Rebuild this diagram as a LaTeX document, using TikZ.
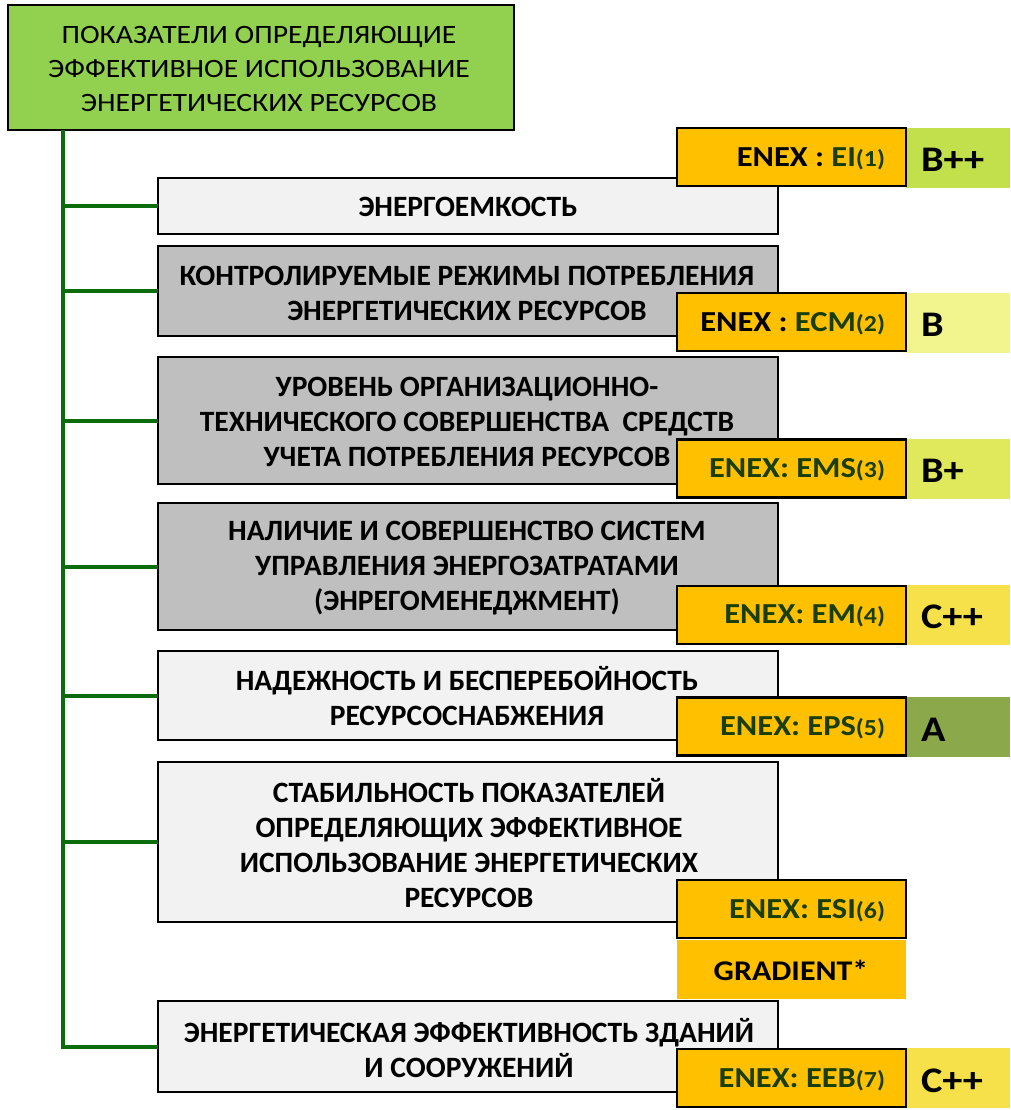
\documentclass[tikz,border=0pt]{standalone}
\usepackage{fontspec}
\setmainfont{Carlito}
\newfontfamily\widefont[FakeStretch=1.12]{Carlito}
\definecolor{titlegreen}{HTML}{92D050}
\definecolor{lightbox}{HTML}{F2F2F2}
\definecolor{graybox}{HTML}{BFBFBF}
\definecolor{enexorange}{HTML}{FFC000}
\definecolor{enexgreen}{RGB}{25,62,10}
\definecolor{trunkgreen}{RGB}{10,108,10}
\definecolor{gBpp}{HTML}{C2E04B}
\definecolor{gB}{HTML}{F2F58E}
\definecolor{gBp}{HTML}{E0E85C}
\definecolor{gCpp}{HTML}{F6E14B}
\definecolor{gA}{HTML}{8BA84B}
\newcommand{\ptxt}[1]{{\fontsize{23}{26}\selectfont #1}}
\begin{document}
\begin{tikzpicture}[x=1pt,y=-1pt,
  base/.style={inner sep=0pt,outer sep=0pt},
  titlebox/.style={base,draw=black,line width=2.5pt,fill=titlegreen,minimum width=506pt,minimum height=125pt},
  titletext/.style={base,align=center,font=\widefont\fontsize{26.5}{34}\selectfont},
  litebox/.style={base,draw=black,line width=2.5pt,fill=lightbox,minimum width=620pt},
  darkbox/.style={base,draw=black,line width=2.5pt,fill=graybox,minimum width=620pt},
  subtext/.style={base,align=center,font=\bfseries\fontsize{29.5}{35}\selectfont},
  enexbox/.style={base,draw=black,line width=2.5pt,fill=enexorange,minimum width=229pt,minimum height=58pt},
  enextext/.style={base,anchor=east,text=enexgreen,font=\widefont\bfseries\fontsize{29}{31}\selectfont},
  gradebox/.style={base,minimum width=104pt,minimum height=60pt},
  gradetext/.style={base,anchor=west,font=\widefont\bfseries\fontsize{36}{38}\selectfont},
  trunk/.style={draw=trunkgreen,line width=4pt}
]
\useasboundingbox (0,0) rectangle (1010,1110);

% title
\node[titlebox] (title) at (261,67.5) {};
\node[titletext] (titlet) at (259,69) {ПОКАЗАТЕЛИ ОПРЕДЕЛЯЮЩИЕ\\ЭФФЕКТИВНОЕ ИСПОЛЬЗОВАНИЕ\\ЭНЕРГЕТИЧЕСКИХ РЕСУРСОВ};

% sub boxes
\node[litebox,minimum height=56pt] (b1) at (468,206) {};
\node[darkbox,minimum height=90pt] (b2) at (468,291) {};
\node[darkbox,minimum height=127pt] (b3) at (468,420.5) {};
\node[darkbox,minimum height=127pt] (b4) at (468,566.5) {};
\node[litebox,minimum height=89pt] (b5) at (468,695.5) {};
\node[litebox,minimum height=160pt] (b6) at (468,842) {};
\node[litebox,minimum height=91pt] (b7) at (468,1046.5) {};

\node[subtext] (t1) at (468,207) {ЭНЕРГОЕМКОСТЬ};
\node[subtext] (t2) at (467,293) {КОНТРОЛИРУЕМЫЕ РЕЖИМЫ ПОТРЕБЛЕНИЯ\\ЭНЕРГЕТИЧЕСКИХ РЕСУРСОВ};
\node[subtext] (t3) at (467,422) {УРОВЕНЬ ОРГАНИЗАЦИОННО-\\ТЕХНИЧЕСКОГО СОВЕРШЕНСТВА\ \ СРЕДСТВ\\УЧЕТА ПОТРЕБЛЕНИЯ РЕСУРСОВ};
\node[subtext] (t4) at (467,568) {НАЛИЧИЕ И СОВЕРШЕНСТВО СИСТЕМ\\УПРАВЛЕНИЯ ЭНЕРГОЗАТРАТАМИ\\(ЭНРЕГОМЕНЕДЖМЕНТ)};
\node[subtext] (t5) at (467,696) {НАДЕЖНОСТЬ И БЕСПЕРЕБОЙНОСТЬ\\РЕСУРСОСНАБЖЕНИЯ};
\node[subtext] (t6) at (469,843) {СТАБИЛЬНОСТЬ ПОКАЗАТЕЛЕЙ\\ОПРЕДЕЛЯЮЩИХ ЭФФЕКТИВНОЕ\\ИСПОЛЬЗОВАНИЕ ЭНЕРГЕТИЧЕСКИХ\\РЕСУРСОВ};
\node[subtext] (t7) at (469,1048) {ЭНЕРГЕТИЧЕСКАЯ ЭФФЕКТИВНОСТЬ ЗДАНИЙ\\И СООРУЖЕНИЙ};

% connectors
\coordinate (top) at ([xshift=55pt]title.south west);
\draw[trunk] (top) |- (b7.west);
\foreach \b in {b1,b2,b3,b4,b5,b6}{
  \draw[trunk] (\b.west -| top) -- (\b.west);
}

% grade boxes
\node[gradebox,fill=gBpp] (g1) at (958,158) {};
\node[gradebox,fill=gB] (g2) at (958,323) {};
\node[gradebox,fill=gBp] (g3) at (958,468.5) {};
\node[gradebox,fill=gCpp] (g4) at (958,615) {};
\node[gradebox,fill=gA] (g5) at (958,727) {};
\node[gradebox,fill=gCpp] (g7) at (958,1078) {};

\node[gradetext] (gt1) at (921,160) {B++};
\node[gradetext] (gt2) at (921,325) {B};
\node[gradetext] (gt3) at (921,471) {B+};
\node[gradetext] (gt4) at (921,617) {C++};
\node[gradetext] (gt5) at (921,730) {A};
\node[gradetext] (gt7) at (921,1081) {C++};

% ENEX boxes
\node[enexbox] (e1) at (791.5,157) {};
\node[enexbox] (e2) at (791.5,322) {};
\node[enexbox] (e3) at (791.5,468.5) {};
\node[enexbox] (e4) at (791.5,615) {};
\node[enexbox] (e5) at (791.5,726.5) {};
\node[enexbox] (e6) at (791.5,909) {};
\node[base,fill=enexorange,minimum width=229pt,minimum height=59pt] (grad) at (791.5,969.5) {};
\node[enexbox] (e7) at (791.5,1078) {};

\node[enextext] (et1) at (885,159) {\textcolor{black}{ENEX : }EI\ptxt{(1)}};
\node[enextext] (et2) at (885,324) {\textcolor{black}{ENEX : }ECM\ptxt{(2)}};
\node[enextext] (et3) at (885,470) {ENEX: EMS\ptxt{(3)}};
\node[enextext] (et4) at (885,616) {ENEX: EM\ptxt{(4)}};
\node[enextext] (et5) at (885,728) {ENEX: EPS\ptxt{(5)}};
\node[enextext] (et6) at (885,911) {ENEX: ESI\ptxt{(6)}};
\node[base,font=\widefont\bfseries\fontsize{28.5}{32}\selectfont] (gradt) at (791,970) {GRADIENT*};
\node[enextext] (et7) at (885,1080) {ENEX: EEB\ptxt{(7)}};
\end{tikzpicture}
\end{document}
